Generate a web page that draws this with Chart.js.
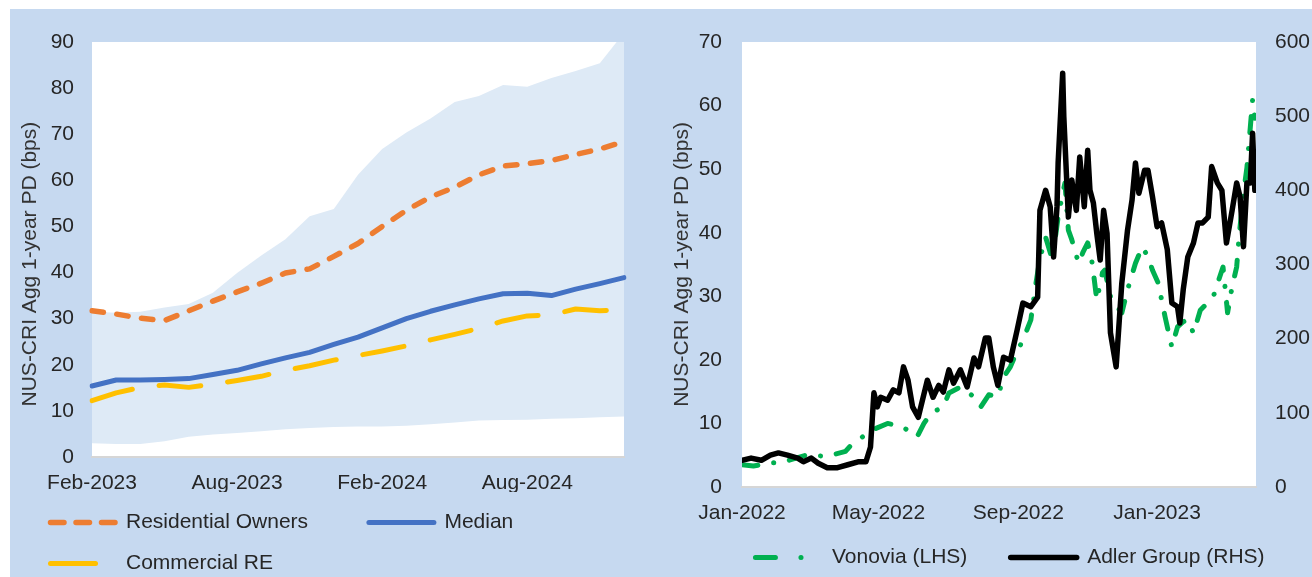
<!DOCTYPE html>
<html>
<head>
<meta charset="utf-8">
<script src="https://cdn.jsdelivr.net/npm/chart.js@4/dist/chart.umd.min.js"></script>
<style>
  html, body { margin: 0; padding: 0; width: 1312px; height: 577px; overflow: hidden; background: #fff; }
  #bg { position: absolute; left: 10px; top: 9px; width: 1302px; height: 568px; background: #c6d9f0; }
  #left { position: absolute; left: 10px; top: 9px; }
  #right { position: absolute; left: 660px; top: 9px; }
</style>
</head>
<body>
<div id="bg"></div>
<canvas id="left" width="645" height="581"></canvas>
<canvas id="right" width="700" height="581"></canvas>
<script>
// ---- left chart: sector PD, monthly ----
const leftMonths = ['Feb-2023','Mar-2023','Apr-2023','May-2023','Jun-2023','Jul-2023','Aug-2023','Sep-2023','Oct-2023','Nov-2023','Dec-2023',
  'Jan-2024','Feb-2024','Mar-2024','Apr-2024','May-2024','Jun-2024','Jul-2024','Aug-2024','Sep-2024','Oct-2024','Nov-2024','Dec-2024'];
const leftTickLabels = ['Feb-2023', 'Aug-2023', 'Feb-2024', 'Aug-2024'];
const residentialOwners = [31.7, 31.0, 30.1, 29.6, 31.7, 33.8, 35.8, 37.7, 39.9, 40.8, 43.5, 46.3, 50.0, 53.5, 56.4, 58.5, 61.2, 63.1, 63.6, 64.3, 65.6, 66.8, 68.4];
const median = [15.4, 16.7, 16.7, 16.8, 17.0, 17.9, 18.8, 20.2, 21.5, 22.7, 24.4, 26.0, 28.0, 30.0, 31.6, 33.0, 34.3, 35.4, 35.5, 35.0, 36.4, 37.6, 38.9];
const commercialRE = [12.2, 13.9, 15.1, 15.6, 15.1, 15.8, 16.6, 17.5, 18.8, 19.8, 21.0, 22.0, 23.0, 24.1, 25.4, 26.6, 27.9, 29.5, 30.6, 30.8, 32.1, 31.7, 32.0];
const bandUpper = [31.5, 31.3, 31.5, 32.4, 33.2, 35.6, 39.9, 43.7, 47.2, 52.2, 53.8, 61.2, 66.8, 70.4, 73.4, 77.0, 78.3, 80.7, 80.3, 82.2, 83.7, 85.4, 92.0];
const bandLower = [3.0, 2.8, 2.8, 3.4, 4.4, 4.9, 5.2, 5.6, 6.0, 6.3, 6.5, 6.6, 6.6, 6.8, 7.1, 7.5, 7.9, 8.0, 8.1, 8.3, 8.4, 8.6, 8.8];

// ---- right chart: daily PD, days since 1 Jan 2022 ----
const rightTickDays = [0, 120, 243, 365];
const rightTickLabels = ['Jan-2022', 'May-2022', 'Sep-2022', 'Jan-2023'];
const adlerDays = [0, 8, 17, 25, 32, 40, 49, 54, 61, 67, 75, 84, 93, 102, 109, 113, 116, 119, 122, 128, 133, 138, 142, 146, 150, 155,
  163, 168, 173, 177, 182, 186, 192, 198, 204, 208, 214, 217, 221, 225, 230, 236, 242, 247, 254, 260, 262, 267, 271, 274, 277, 278,
  282, 283, 287, 290, 294, 297, 301, 304, 306, 309, 312, 315, 318, 321, 324, 329, 334, 339, 343, 346, 349, 354, 357, 361, 365, 369,
  374, 378, 383, 385, 388, 392, 397, 401, 405, 410, 413, 418, 422, 426, 431, 435, 438, 441, 444, 447, 449, 451];
const adlerPD = [36, 39, 36, 43, 46, 43, 39, 34, 39, 32, 26, 26, 30, 34, 34, 54, 127, 108, 121, 117, 131, 127, 162, 144, 108, 94,
  144, 121, 137, 128, 158, 140, 158, 135, 174, 162, 201, 201, 162, 137, 175, 171, 212, 248, 243, 256, 373, 400, 378, 310, 378, 437,
  558, 499, 364, 414, 373, 445, 378, 454, 400, 383, 342, 306, 373, 342, 208, 162, 275, 346, 387, 437, 396, 427, 427, 391, 351, 356,
  320, 248, 243, 221, 266, 310, 329, 356, 356, 364, 432, 410, 400, 329, 373, 410, 391, 324, 410, 410, 477, 400];
const vonoviaDays = [0, 10, 17, 25, 34, 43, 58, 74, 91, 96, 102, 115, 128, 141, 154, 160, 166, 177, 182, 192, 204, 210, 217, 225,
  230, 236, 241, 247, 254, 258, 262, 267, 273, 278, 282, 284, 287, 290, 296, 300, 304, 308, 312, 317, 319, 324, 329, 334, 339, 346,
  352, 357, 361, 366, 372, 378, 383, 388, 392, 397, 403, 409, 414, 420, 423, 427, 431, 435, 437, 441, 444, 447, 449, 451];
const vonoviaPD = [3.5, 3.3, 3.5, 3.8, 3.8, 4.3, 5.1, 4.8, 5.6, 6.6, 7.4, 9.0, 10.0, 9.5, 7.9, 10.0, 11.6, 12.6, 14.8, 15.7, 14.2, 12.6, 14.5, 14.2,
  17.3, 18.9, 21.0, 23.1, 26.3, 31.5, 36.0, 39.3, 35.7, 42.5, 46.2, 47.8, 40.4, 38.9, 35.2, 37.0, 38.4, 35.2, 29.4, 33.7, 34.1, 30.0, 28.5, 27.4, 31.0, 35.2,
  37.8, 36.2, 34.1, 32.1, 26.8, 22.0, 25.2, 26.0, 26.3, 24.2, 27.8, 28.9, 29.7, 33.0, 34.6, 27.4, 31.5, 34.6, 39.2, 46.2, 50.2, 56.6, 60.9, 58.0];

const axisTitle = 'NUS-CRI Agg 1-year PD (bps)';
const tickColor = '#262626';
Chart.defaults.font.family = "'Liberation Sans', Arial, sans-serif";
Chart.defaults.font.size = 21;
Chart.defaults.color = tickColor;

const plotBg = {
  id: 'plotBg',
  beforeDraw(chart) {
    const a = chart.chartArea, ctx = chart.ctx;
    ctx.save();
    ctx.fillStyle = '#ffffff';
    ctx.fillRect(a.left, a.top, a.right - a.left, a.bottom - a.top);
    ctx.restore();
  }
};

function lineSet(label, data, color, width, dash, legendDash, order) {
  return {
    label: label, data: data, borderColor: color, backgroundColor: color,
    borderWidth: width, borderDash: dash, legendDash: legendDash,
    borderCapStyle: 'round', borderJoinStyle: 'round',
    pointRadius: 0, tension: 0, fill: false, order: order
  };
}

// legend samples drawn as dashed lines like the series
const legendLabels = (pad, w) => ({
  usePointStyle: true, pointStyle: 'line', pointStyleWidth: w, padding: pad,
  color: tickColor, font: { size: 21 },
  generateLabels: chart => Chart.defaults.plugins.legend.labels.generateLabels(chart).map(item => {
    const ds = chart.data.datasets[item.datasetIndex];
    item.lineDash = ds.legendDash || [];
    item.lineDashOffset = 0;
    item.lineCap = 'round';
    item.lineWidth = ds.borderWidth;
    return item;
  }),
  filter: item => item.text !== 'band',
  sort: (a, b) => a.datasetIndex - b.datasetIndex
});

new Chart(document.getElementById('left'), {
  type: 'line',
  data: {
    labels: leftMonths,
    datasets: [
      { label: 'band', data: bandUpper, borderWidth: 0, pointRadius: 0, backgroundColor: '#deeaf6', fill: '+1', order: 10 },
      { label: 'band', data: bandLower, borderWidth: 0, pointRadius: 0, fill: false, order: 11 },
      lineSet('Residential Owners       ', residentialOwners, '#ed7d31', 5.5, [11.5, 13.5], [13.5, 12], 1),
      lineSet('Median', median, '#4472c4', 5, [], [], 2),
      lineSet('Commercial RE', commercialRE, '#ffc000', 5, [42, 27], [45, 20], 3)
    ]
  },
  options: {
    responsive: false, animation: false, events: [],
    layout: { padding: { left: 20.5, right: 31, top: 33, bottom: 6 } },
    plugins: {
      tooltip: { enabled: false },
      legend: { position: 'bottom', align: 'start', labels: legendLabels(20, 65) }
    },
    scales: {
      x: {
        grid: { display: false, drawTicks: false },
        border: { display: true, color: '#d6d6d6', width: 2 },
        ticks: {
          autoSkip: false, maxRotation: 0, minRotation: 0, padding: 14,
          callback: function (v) {
            const lab = this.getLabelForValue(v);
            return leftTickLabels.includes(lab) ? lab : '';
          }
        },
        afterFit: s => { s.height = 35; }
      },
      y: {
        min: 0, max: 90,
        grid: { display: false, drawTicks: false },
        border: { display: false },
        ticks: { stepSize: 10, padding: 18 },
        title: { display: true, text: axisTitle + '     ', color: '#333', font: { size: 21 }, padding: { top: -13, bottom: 0 } },
        afterFit: s => { s.width = 61.5; }
      }
    }
  },
  plugins: [plotBg]
});

new Chart(document.getElementById('right'), {
  type: 'line',
  data: {
    datasets: [
      Object.assign(lineSet('Vonovia (LHS)    ', vonoviaDays.map((d, i) => ({ x: d, y: vonoviaPD[i] })), '#00b050', 5,
        [16, 16, 0.1, 16], [20, 25.5, 0.1, 30], 1), { yAxisID: 'y' }),
      Object.assign(lineSet('Adler Group (RHS)', adlerDays.map((d, i) => ({ x: d, y: adlerPD[i] })), '#000000', 5.5, [], [], 0), { yAxisID: 'y1' })
    ]
  },
  options: {
    responsive: false, animation: false, events: [],
    layout: { padding: { left: 0, right: 0, top: 33, bottom: 12 } },
    plugins: {
      tooltip: { enabled: false },
      legend: { position: 'bottom', align: 'center', labels: legendLabels(20, 66) }
    },
    scales: {
      x: {
        type: 'linear', min: 0, max: 452,
        grid: { display: false, drawTicks: false },
        border: { display: true, color: '#d6d6d6', width: 2 },
        afterBuildTicks: s => { s.ticks = rightTickDays.map(v => ({ value: v })); },
        ticks: { maxRotation: 0, minRotation: 0, padding: 14, callback: (v, i) => rightTickLabels[i] },
        afterFit: s => { s.height = 40; }
      },
      y: {
        position: 'left', min: 0, max: 70,
        grid: { display: false, drawTicks: false },
        border: { display: false },
        ticks: { stepSize: 10, padding: 20 },
        title: { display: true, text: axisTitle, color: '#333', font: { size: 21 }, padding: { top: 10, bottom: 0 } },
        afterFit: s => { s.width = 82; }
      },
      y1: {
        position: 'right', min: 0, max: 600,
        grid: { display: false, drawTicks: false },
        border: { display: false },
        ticks: { stepSize: 100, padding: 19 },
        afterFit: s => { s.width = 104; }
      }
    }
  },
  plugins: [plotBg]
});
</script>
</body>
</html>
